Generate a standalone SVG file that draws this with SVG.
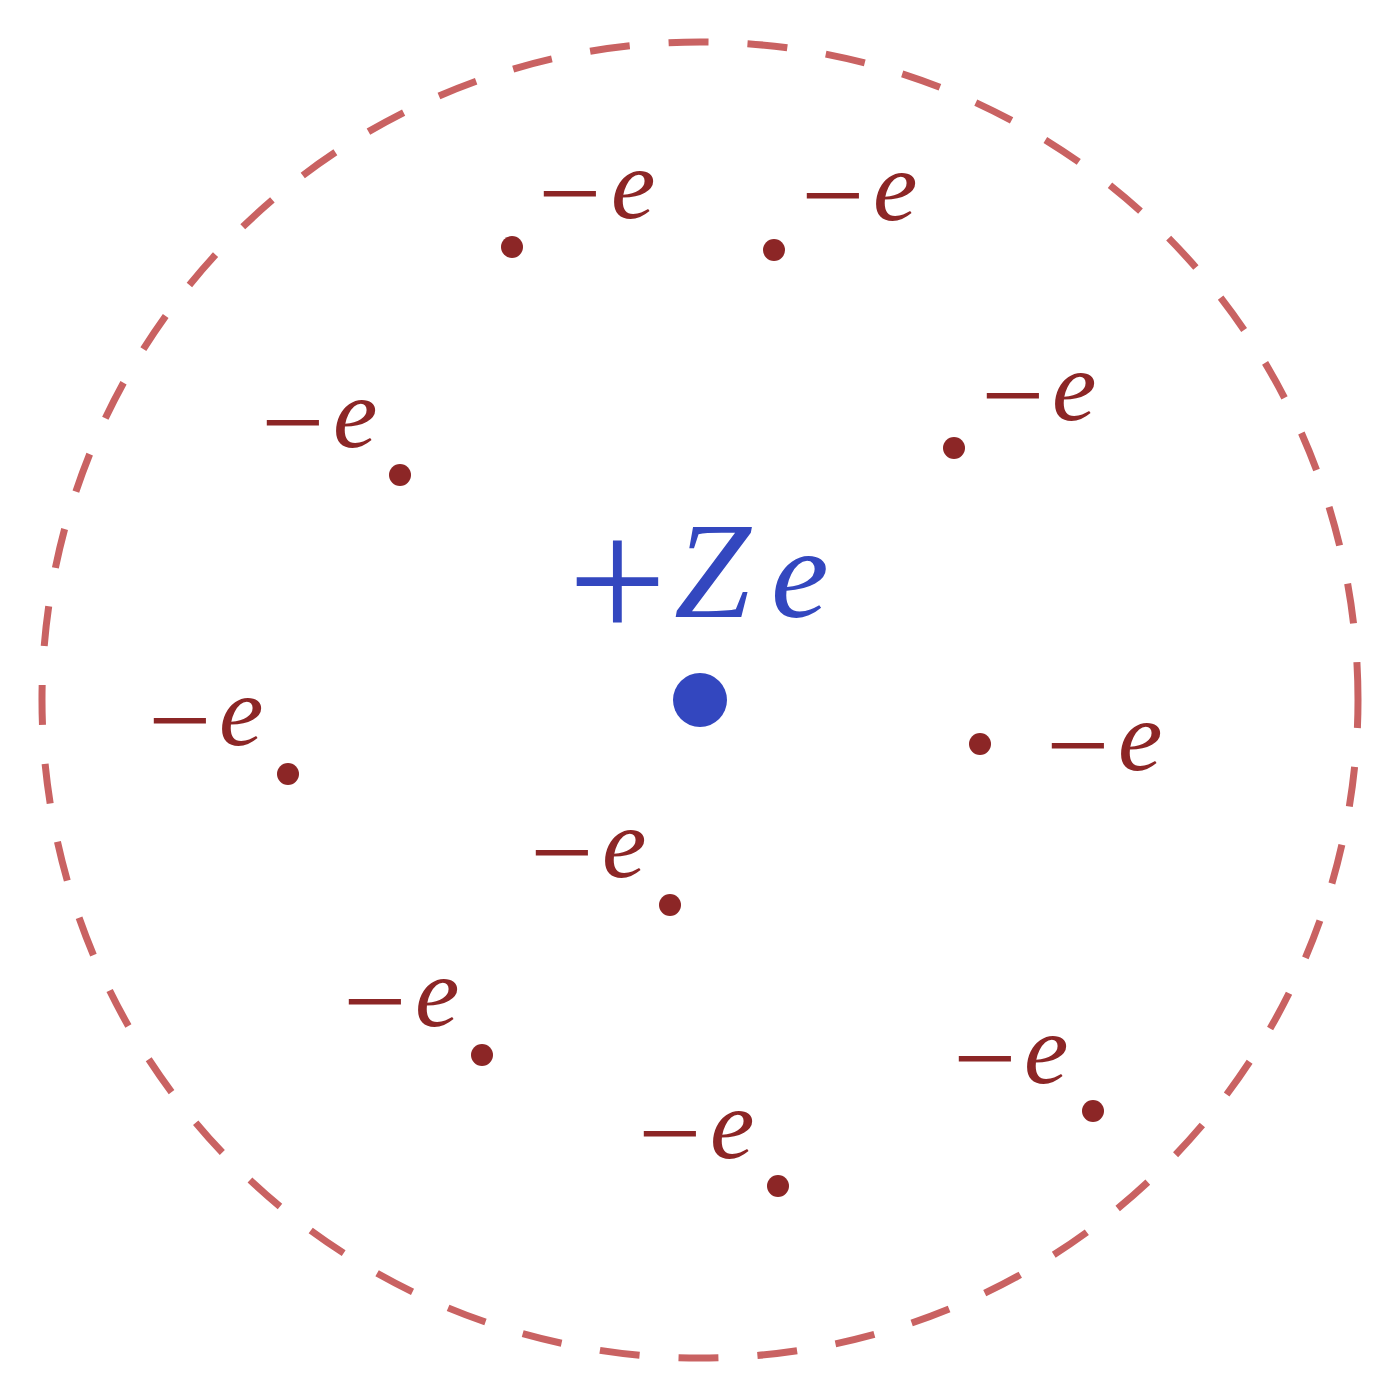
<svg xmlns="http://www.w3.org/2000/svg" width="1400" height="1400" viewBox="0 0 1400 1400">
<style>
.lbl{font-family:"Liberation Serif","Times New Roman",serif;fill:#8c2626}
.m{font-size:112px;font-style:normal}
.e{font-size:100px;font-style:italic}
.el{fill:#8c2626}
.nuc{fill:#3347bf}
.nl{font-family:"Liberation Serif","Times New Roman",serif;fill:#3347bf}
</style>
<rect width="1400" height="1400" fill="#ffffff"/>
<g id="boundary">
<circle cx="700" cy="700" r="658" fill="none" stroke="#c96262" stroke-width="7" stroke-dasharray="40 39" stroke-dashoffset="12"/>
</g>
<g id="nucleus">
<circle class="nuc" cx="700" cy="700" r="27"/>
<text class="nl" x="568" y="640" font-size="175">+</text>
<text class="nl" x="674" y="617" font-size="138" font-style="italic">Z</text>
<text class="nl" x="771" y="617" font-size="130" font-style="italic">e</text>
</g>
<g id="electrons">
<g id="e1"><circle class="el" cx="512" cy="247" r="11"/><text class="lbl" y="218"><tspan class="m" x="538" dy="13">−</tspan><tspan class="e" x="611" dy="-13">e</tspan></text></g>
<g id="e2"><circle class="el" cx="774" cy="250" r="11"/><text class="lbl" y="220"><tspan class="m" x="801" dy="13">−</tspan><tspan class="e" x="873" dy="-13">e</tspan></text></g>
<g id="e3"><circle class="el" cx="954" cy="448" r="11"/><text class="lbl" y="420"><tspan class="m" x="981" dy="13">−</tspan><tspan class="e" x="1052" dy="-13">e</tspan></text></g>
<g id="e4"><circle class="el" cx="400" cy="475" r="11"/><text class="lbl" y="447"><tspan class="m" x="261" dy="13">−</tspan><tspan class="e" x="333" dy="-13">e</tspan></text></g>
<g id="e5"><circle class="el" cx="288" cy="774" r="11"/><text class="lbl" y="745"><tspan class="m" x="148" dy="13">−</tspan><tspan class="e" x="219" dy="-13">e</tspan></text></g>
<g id="e6"><circle class="el" cx="980" cy="744" r="11"/><text class="lbl" y="770"><tspan class="m" x="1046" dy="13">−</tspan><tspan class="e" x="1118" dy="-13">e</tspan></text></g>
<g id="e7"><circle class="el" cx="670" cy="905" r="11"/><text class="lbl" y="877"><tspan class="m" x="530" dy="13">−</tspan><tspan class="e" x="602" dy="-13">e</tspan></text></g>
<g id="e8"><circle class="el" cx="482" cy="1055" r="11"/><text class="lbl" y="1026"><tspan class="m" x="343" dy="13">−</tspan><tspan class="e" x="415" dy="-13">e</tspan></text></g>
<g id="e9"><circle class="el" cx="1093" cy="1111" r="11"/><text class="lbl" y="1083"><tspan class="m" x="953" dy="13">−</tspan><tspan class="e" x="1024" dy="-13">e</tspan></text></g>
<g id="e10"><circle class="el" cx="778" cy="1186" r="11"/><text class="lbl" y="1158"><tspan class="m" x="638" dy="13">−</tspan><tspan class="e" x="710" dy="-13">e</tspan></text></g>
</g>
</svg>
